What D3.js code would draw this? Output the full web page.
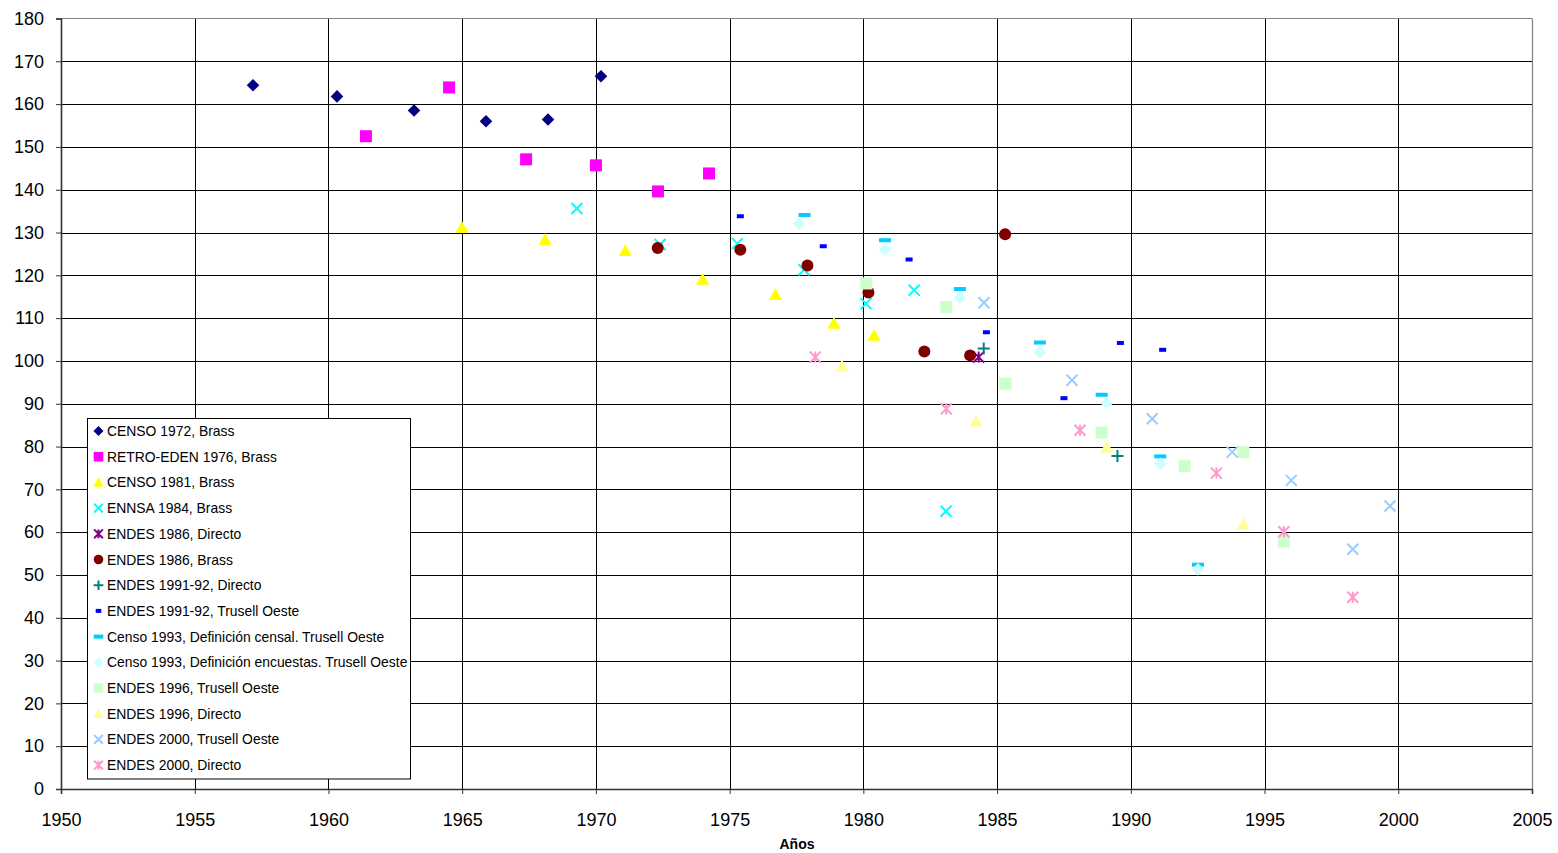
<!DOCTYPE html>
<html><head><meta charset="utf-8">
<script src="https://cdn.jsdelivr.net/npm/d3@7"></script>
<style>body{margin:0;background:#fff}svg{display:block;font-family:Arial,"Liberation Sans",sans-serif}</style>
</head><body><svg id="c" width="1558" height="853"></svg>
<script>
// ---- data: [year, value] ----
const censo1972 = [[1957.18,164.4],[1960.32,161.8],[1963.20,158.5],[1965.89,156.0],[1968.21,156.4],[1970.19,166.5]];
const retroEden1976 = [[1961.40,152.5],[1964.51,163.9],[1967.39,147.1],[1970.00,145.7],[1972.32,139.6],[1974.23,143.8]];
const censo1981 = [[1964.99,131.2],[1968.10,128.4],[1971.10,125.8],[1973.99,119.1],[1976.71,115.5],[1978.90,108.8],[1980.40,106.0]];
const ennsa1984 = [[1969.29,135.6],[1972.40,127.2],[1975.29,127.4],[1977.78,121.3],[1980.10,113.4],[1981.90,116.5],[1983.09,64.9]];
const endes1986Directo = [[1984.31,100.9]];
const endes1986Brass = [[1972.31,126.4],[1975.40,126.0],[1977.91,122.3],[1980.19,116.0],[1982.28,102.2],[1983.99,101.3],[1985.30,129.6]];
const endes1991Directo = [[1984.50,102.9],[1989.50,77.8]];
const endes1991Trusell = [[1975.40,133.8],[1978.50,126.8],[1981.71,123.7],[1984.60,106.7],[1987.50,91.3],[1989.61,104.2],[1991.19,102.6]];
const censo1993Censal = [[1977.80,134.1],[1980.81,128.2],[1983.61,116.8],[1986.60,104.3],[1988.91,92.1],[1991.10,77.7],[1992.51,52.4]];
const censo1993Encuestas = [[1977.59,132.1],[1980.81,126.0],[1983.61,114.7],[1986.60,102.0],[1989.10,90.1],[1991.10,76.0],[1992.51,51.3]];
const endes1996Trusell = [[1980.11,118.1],[1983.10,112.6],[1985.31,94.7],[1988.91,83.3],[1992.01,75.4],[1994.21,78.7],[1995.72,57.8]];
const endes1996Directo = [[1979.20,98.8],[1984.21,85.9],[1989.10,79.9],[1994.21,61.9]];
const endes2000Trusell = [[1984.51,113.6],[1987.80,95.5],[1990.80,86.5],[1993.79,78.7],[1996.00,72.1],[1998.30,56.0],[1999.69,66.1]];
const endes2000Directo = [[1978.20,100.9],[1983.10,88.8],[1988.10,83.8],[1993.20,73.8],[1995.72,60.1],[1998.30,44.8]];

const seriesNames = ["CENSO 1972, Brass","RETRO-EDEN 1976, Brass","CENSO 1981, Brass","ENNSA 1984, Brass","ENDES 1986, Directo","ENDES 1986, Brass","ENDES 1991-92, Directo","ENDES 1991-92, Trusell Oeste","Censo 1993, Definición censal. Trusell Oeste","Censo 1993, Definición encuestas. Trusell Oeste","ENDES 1996, Trusell Oeste","ENDES 1996, Directo","ENDES 2000, Trusell Oeste","ENDES 2000, Directo"];
const seriesData = [censo1972,retroEden1976,censo1981,ennsa1984,endes1986Directo,endes1986Brass,endes1991Directo,endes1991Trusell,censo1993Censal,censo1993Encuestas,endes1996Trusell,endes1996Directo,endes2000Trusell,endes2000Directo];
const seriesColors = ["#000080","#FF00FF","#FFFF00","#00FFFF","#800080","#800000","#008080","#0000FF","#00CCFF","#CCFFFF","#CCFFCC","#FFFF99","#99CCFF","#FF99CC"];
const seriesShapes = ["diamond","square","triangle","x","star","circle","plus","dash","longdash","diamond","square","triangle","x","star"];

const xTicks = [1950,1955,1960,1965,1970,1975,1980,1985,1990,1995,2000,2005];
const yTicks = [0,10,20,30,40,50,60,70,80,90,100,110,120,130,140,150,160,170,180];
const xTitle = "Años";

// ---- layout ----
const L = 61, R = 1532, T = 18.5, B = 789;
const x = d3.scaleLinear().domain([1950,2005]).range([L,R]);
const y = d3.scaleLinear().domain([0,180]).range([B,T]);
const svg = d3.select("#c");

// gridlines
const g = svg.append("g");
g.selectAll("line.h").data(yTicks.filter(v=>v>0 && v<180)).enter().append("line")
  .attr("x1",L).attr("x2",R).attr("y1",d=>Math.round(y(d))+0.5).attr("y2",d=>Math.round(y(d))+0.5)
  .attr("stroke","#000").attr("stroke-width",1);
g.selectAll("line.v").data(xTicks.filter(v=>v>1950 && v<2005)).enter().append("line")
  .attr("y1",T).attr("y2",B).attr("x1",d=>Math.round(x(d))+0.5).attr("x2",d=>Math.round(x(d))+0.5)
  .attr("stroke","#000").attr("stroke-width",1);
// border top/right
svg.append("line").attr("x1",L).attr("x2",R).attr("y1",T).attr("y2",T).attr("stroke","#808080").attr("stroke-width",1.2);
svg.append("line").attr("x1",R+0.5).attr("x2",R+0.5).attr("y1",T).attr("y2",B).attr("stroke","#808080").attr("stroke-width",1.2);

// axes
const xa = svg.append("g").attr("transform",`translate(0,${B})`)
  .call(d3.axisBottom(x).tickValues(xTicks).tickFormat(d3.format("d")).tickSize(5).tickPadding(19));
const ya = svg.append("g").attr("transform",`translate(${L},0)`)
  .call(d3.axisLeft(y).tickValues(yTicks).tickSize(5).tickPadding(12));
[xa,ya].forEach(a=>{
  a.select(".domain").attr("stroke","#333").attr("stroke-width",1.6);
  a.selectAll(".tick line").attr("stroke","#333");
  a.selectAll("text").attr("font-size","18px").attr("fill","#000").attr("font-family","Arial, 'Liberation Sans', sans-serif");
});
svg.append("text").attr("x",797).attr("y",849).attr("text-anchor","middle")
  .attr("font-size","14px").attr("font-weight","bold").text(xTitle);

// marker drawing
function drawMarker(sel, shape, color, s) {
  if (shape==="diamond") {
    const r = 6.3*s;
    sel.append("path").attr("d",`M0,${-r}L${r},0L0,${r}L${-r},0Z`).attr("fill",color);
  } else if (shape==="square") {
    const h = 6*s;
    sel.append("rect").attr("x",-h).attr("y",-h).attr("width",2*h).attr("height",2*h).attr("fill",color);
  } else if (shape==="triangle") {
    const h = 6.5*s;
    sel.append("path").attr("d",`M0,${-h}L${h},${h*0.85}L${-h},${h*0.85}Z`).attr("fill",color);
  } else if (shape==="circle") {
    sel.append("circle").attr("r",6*s).attr("fill",color);
  } else if (shape==="x") {
    const h = 5.5*s;
    sel.append("path").attr("d",`M${-h},${-h}L${h},${h}M${-h},${h}L${h},${-h}`).attr("stroke",color).attr("stroke-width",2).attr("fill","none");
  } else if (shape==="star") {
    const h = 5.5*s;
    sel.append("path").attr("d",`M${-h},${-h}L${h},${h}M${-h},${h}L${h},${-h}M0,${-h}L0,${h}`).attr("stroke",color).attr("stroke-width",2).attr("fill","none");
  } else if (shape==="plus") {
    const h = 6*s;
    sel.append("path").attr("d",`M${-h},0L${h},0M0,${-h}L0,${h}`).attr("stroke",color).attr("stroke-width",2).attr("fill","none");
  } else if (shape==="dash") {
    sel.append("rect").attr("x",-3.5*s).attr("y",-2).attr("width",7*s).attr("height",4).attr("fill",color);
  } else if (shape==="longdash") {
    sel.append("rect").attr("x",-6*s).attr("y",-2).attr("width",12*s).attr("height",4).attr("fill",color);
  }
}

seriesData.forEach((data,i)=>{
  const gs = svg.append("g");
  gs.selectAll("g").data(data).enter().append("g")
    .attr("transform",d=>`translate(${x(d[0])},${y(d[1])})`)
    .each(function(){ drawMarker(d3.select(this), seriesShapes[i], seriesColors[i], 1); });
});

// legend
const lg = svg.append("g");
lg.append("rect").attr("x",87.5).attr("y",418.5).attr("width",323).attr("height",360.5).attr("fill","#fff").attr("stroke","#000").attr("stroke-width",1);
seriesNames.forEach((n,i)=>{
  const yy = 431 + i*25.7;
  const m = lg.append("g").attr("transform",`translate(98.5,${yy})`);
  drawMarker(m, seriesShapes[i], seriesColors[i], 0.8);
  lg.append("text").attr("x",107).attr("y",yy+5).attr("font-size","13.9px").attr("fill","#000").text(n);
});
</script></body></html>
